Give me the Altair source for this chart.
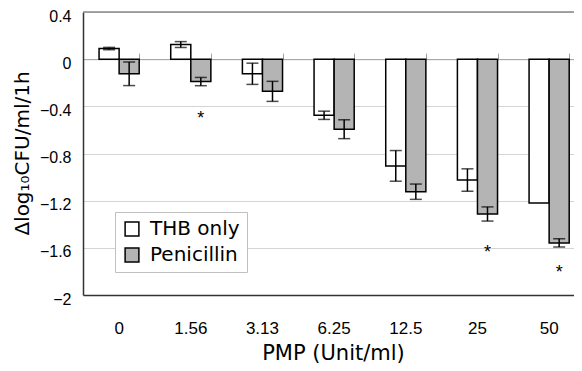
import altair as alt
import pandas as pd

conc = ["0", "1.56", "3.13", "6.25", "12.5", "25", "50"]
series_names = ["THB only", "Penicillin"]
thb = [0.09, 0.124, -0.124, -0.476, -0.905, -1.025, -1.22]
thb_err = [0.01, 0.025, 0.09, 0.035, 0.13, 0.095, 0.0]
pen = [-0.124, -0.19, -0.273, -0.594, -1.124, -1.313, -1.558]
pen_err = [0.1, 0.035, 0.085, 0.08, 0.065, 0.06, 0.035]
star_conc = ["1.56", "25", "50"]
star_y = [-0.465, -1.598, -1.767]
y_ticks = [-2, -1.6, -1.2, -0.8, -0.4, 0, 0.4]

rows = []
for c, v, e in zip(conc, thb, thb_err):
    rows.append({"conc": c, "series": "THB only", "value": v, "lo": v - e, "hi": v + e, "err": e})
for c, v, e in zip(conc, pen, pen_err):
    rows.append({"conc": c, "series": "Penicillin", "value": v, "lo": v - e, "hi": v + e, "err": e})
df = pd.DataFrame(rows)
df_err = df[df["err"] > 0]
df_star = pd.DataFrame({"conc": star_conc, "series": ["Penicillin"] * 3, "y": star_y})

PLOT_H = 283
xscale = alt.Scale(domain=conc, paddingInner=0.44, paddingOuter=0.1455, align=0.77)
yscale = alt.Scale(domain=[-2, 0.4], nice=False, zero=False)
xoff = alt.XOffset("series:N", scale=alt.Scale(domain=series_names))

bars = alt.Chart(df).mark_bar(stroke="black", strokeWidth=1.5).encode(
    x=alt.X("conc:N", scale=xscale, sort=conc,
            axis=alt.Axis(title="PMP (Unit/ml)", orient="bottom", labelAngle=0,
                          labelFontSize=17, labelPadding=25, ticks=False,
                          domainColor="#333333", domainWidth=1.5,
                          titleFont="DejaVu Sans", titleFontSize=21, titleFontWeight="normal",
                          titlePadding=6, titleX=250,
                          labelColor="black", titleColor="black")),
    xOffset=xoff,
    y=alt.Y("value:Q", scale=yscale,
            axis=alt.Axis(title="Δlog₁₀CFU/ml/1h", values=y_ticks, format="~g",
                          labelFontSize=16, labelPadding=12, ticks=False, labelOffset=4,
                          grid=True, gridColor="#d4d4d4", gridWidth=1,
                          domainColor="#333333", domainWidth=1.5,
                          titleFont="DejaVu Sans", titleFontSize=20, titleFontWeight="normal",
                          titleX=-61, titleY=141, titleAngle=-90, titleBaseline="middle",
                          labelColor="black", titleColor="black")),
    y2=alt.Y2(datum=0),
    color=alt.Color("series:N", scale=alt.Scale(domain=series_names, range=["white", "#b4b4b4"]),
                    legend=alt.Legend(title=None, orient="none", legendX=32, legendY=200,
                                      strokeColor="#c0c0c0", fillColor="white", padding=7,
                                      symbolType="square", symbolSize=190,
                                      symbolStrokeColor="black", symbolStrokeWidth=1.5,
                                      labelFont="DejaVu Sans", labelFontSize=20, labelOffset=8,
                                      rowPadding=6, labelColor="black")),
)

zero_axis = alt.Chart(df).mark_bar(opacity=0).encode(
    x=alt.X("conc:N", scale=xscale, sort=conc,
            axis=alt.Axis(title=None, orient="top", offset=-PLOT_H * 0.4 / 2.4, labels=False,
                          tickBand="extent", tickSize=6, tickColor="#a0a0a0",
                          domainColor="#a0a0a0", domainWidth=1)),
    y=alt.Y("value:Q", scale=yscale, axis=None),
)

top_border = alt.Chart(pd.DataFrame({"y": [0.4]})).mark_rule(color="#888888", strokeWidth=1.5).encode(
    y=alt.Y("y:Q", scale=yscale, axis=None),
)

err_rule = alt.Chart(df_err).mark_rule(color="black", strokeWidth=1.5).encode(
    x=alt.X("conc:N", scale=xscale, sort=conc, axis=None),
    xOffset=xoff,
    y=alt.Y("lo:Q", scale=yscale, axis=None),
    y2="hi:Q",
)
cap_lo = alt.Chart(df_err).mark_tick(color="black", thickness=1.5, size=12, orient="horizontal").encode(
    x=alt.X("conc:N", scale=xscale, sort=conc, axis=None),
    xOffset=xoff,
    y=alt.Y("lo:Q", scale=yscale, axis=None),
)
cap_hi = alt.Chart(df_err).mark_tick(color="black", thickness=1.5, size=12, orient="horizontal").encode(
    x=alt.X("conc:N", scale=xscale, sort=conc, axis=None),
    xOffset=xoff,
    y=alt.Y("hi:Q", scale=yscale, axis=None),
)
stars = alt.Chart(df_star).mark_text(text="*", fontSize=18, baseline="middle", dy=5, color="black").encode(
    x=alt.X("conc:N", scale=xscale, sort=conc, axis=None),
    xOffset=xoff,
    y=alt.Y("y:Q", scale=yscale, axis=None),
)

chart = alt.layer(zero_axis, top_border, bars, err_rule, cap_lo, cap_hi, stars).resolve_axis(
    x="independent", y="independent"
).properties(
    width=491, height=PLOT_H,
    autosize=alt.AutoSizeParams(type="none"),
    padding={"left": 75, "top": 4, "right": 0, "bottom": 68},
).configure(font="Liberation Sans").configure_view(stroke=None)

chart.save("out.html", embed_options={"renderer": "svg", "actions": False})
